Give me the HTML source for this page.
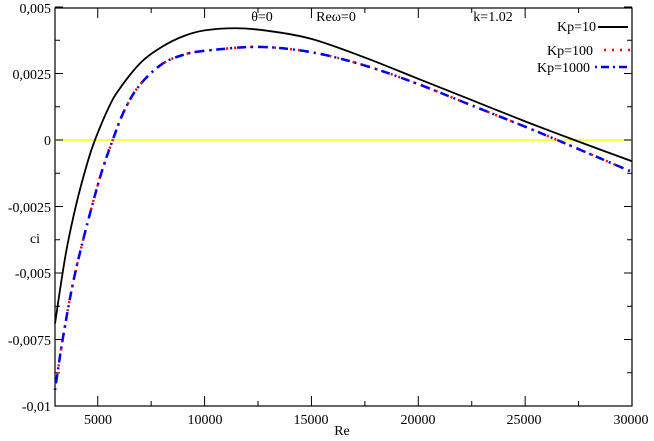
<!DOCTYPE html>
<html><head><meta charset="utf-8"><style>
body{margin:0;background:#fff;}
text{font-family:"Liberation Serif",serif;fill:#000;}
</style></head><body>
<svg id="s" width="654" height="436" xmlns="http://www.w3.org/2000/svg">
<rect x="55" y="8" width="577" height="398" fill="none" stroke="#000" stroke-width="1.2"/>
<line x1="55" y1="140" x2="632" y2="140" stroke="#ffff00" stroke-width="1.5"/>
<g id="ticks" stroke="#000" stroke-width="1"></g>
<g font-size="14" text-anchor="end">
<text x="51" y="13">0,005</text>
<text x="51" y="79">0,0025</text>
<text x="51" y="145">0</text>
<text x="51" y="212">-0,0025</text>
<text x="51" y="278">-0,005</text>
<text x="51" y="345">-0,0075</text>
<text x="51" y="411">-0,01</text>
</g>
<g font-size="14" text-anchor="middle">
<text x="98" y="424">5000</text>
<text x="205" y="424">10000</text>
<text x="311" y="424">15000</text>
<text x="418" y="424">20000</text>
<text x="524" y="424">25000</text>
<text x="631" y="424">30000</text>
<text x="342" y="435">Re</text>
<text x="35" y="243">ci</text>
<text x="262" y="21">θ=0</text>
<text x="336" y="21">Reω=0</text>
<text x="493" y="21">k=1.02</text>
</g>
<g font-size="14" text-anchor="end">
<text x="596" y="31">Kp=10</text>
<text x="593" y="55">Kp=100</text>
<text x="590" y="72">Kp=1000</text>
</g>
<line x1="598" y1="27" x2="628" y2="27" stroke="#000" stroke-width="2"/>
<line x1="604" y1="50" x2="630" y2="50" stroke="#f00" stroke-width="2.5" stroke-dasharray="2,6"/>
<line x1="595" y1="67" x2="630" y2="67" stroke="#00f" stroke-width="2.5" stroke-dasharray="2,4,8,4"/>
<path id="pb" fill="none" stroke="#000" stroke-width="1.8"/>
<path id="pr" fill="none" stroke="#f00" stroke-width="2.5" stroke-dasharray="2,6"/>
<path id="pu" fill="none" stroke="#00f" stroke-width="2.5" stroke-dasharray="2,5,9,5"/>
</svg>
<script>
function X(r){return 55+(r-3000)*577/27000;}
function Y(c){return 140-c*26600;}
var tk=document.getElementById('ticks'),h='';
for(var c=-0.01;c<=0.0051;c+=0.00125){var y=Y(c),L=(Math.round(c/0.00125)%2==0)?8:5;h+='<line x1="55" y1="'+y+'" x2="'+(55+L)+'" y2="'+y+'"/><line x1="632" y1="'+y+'" x2="'+(632-L)+'" y2="'+y+'"/>';}
for(var r=5000;r<=30000;r+=2500){var x=X(r),L=(r%5000==0)?10:5;h+='<line x1="'+x+'" y1="406" x2="'+x+'" y2="'+(406-L)+'"/><line x1="'+x+'" y1="8" x2="'+x+'" y2="'+(8+L)+'"/>';}
tk.innerHTML=h;
function spline(p){var d='',n=p.length;var q=p.map(function(a){return [X(a[0]),Y(a[1])];});
d='M'+q[0][0]+','+q[0][1];
for(var i=0;i<n-1;i++){var p0=q[Math.max(i-1,0)],p1=q[i],p2=q[i+1],p3=q[Math.min(i+2,n-1)];
d+=' C'+(p1[0]+(p2[0]-p0[0])/6)+','+(p1[1]+(p2[1]-p0[1])/6)+' '+(p2[0]-(p3[0]-p1[0])/6)+','+(p2[1]-(p3[1]-p1[1])/6)+' '+p2[0]+','+p2[1];}
return d;}
var B=[[3000,-0.0069],[3500,-0.0043],[4000,-0.0024],[4500,-0.0009],[4870,0],[5500,0.0012],[6000,0.0019],[7000,0.0029],[8000,0.0035],[9000,0.0039],[10000,0.00412],[11500,0.0042],[13000,0.0041],[15000,0.0038],[17500,0.0031],[20000,0.0023],[22500,0.0015],[25000,0.0007],[27300,0],[30000,-0.0008]];
var U=[[3000,-0.0094],[3400,-0.0073],[4000,-0.0048],[5000,-0.0017],[5700,0],[6300,0.0012],[7000,0.0021],[8000,0.00285],[9000,0.0032],[10000,0.00335],[12500,0.0035],[15000,0.0033],[17500,0.0028],[20000,0.0021],[22500,0.0013],[25000,0.0005],[26500,0],[30000,-0.0012]];
document.getElementById('pb').setAttribute('d',spline(B));
document.getElementById('pr').setAttribute('d',spline(U));
document.getElementById('pu').setAttribute('d',spline(U));
</script>
</body></html>
